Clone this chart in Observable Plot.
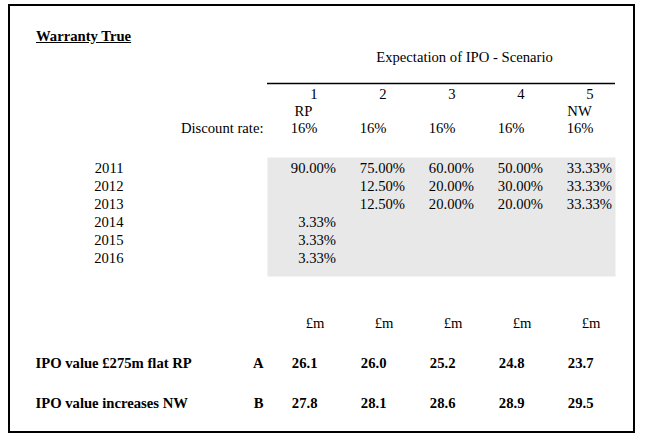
<!DOCTYPE html>
<html>
<head>
<meta charset="utf-8">
<script src="https://cdn.jsdelivr.net/npm/d3@7"></script>
<script src="https://cdn.jsdelivr.net/npm/@observablehq/plot@0.6"></script>
<style>
  html, body { margin: 0; padding: 0; background: #fff; }
  #wrap { position: relative; width: 646px; height: 441px; font-family: "Liberation Serif", "Times New Roman", serif; color: #000; }
  #border { position: absolute; left: 8px; top: 4px; width: 627px; height: 429px; border: 2px solid #000; box-sizing: border-box; }
  #title { position: absolute; left: 36px; top: 29px; font-size: 14.67px; font-weight: bold; text-decoration: underline; line-height: 1; white-space: nowrap; }
  #wrap svg { position: absolute; left: 0; top: 0; }
</style>
</head>
<body>
<div id="wrap"><div id="border"></div><div id="title"></div></div>
<script>
// ---- data ----
const title = "Warranty True";
const scenarioCaption = "Expectation of IPO - Scenario";
const scenarios = ["1", "2", "3", "4", "5"];
const scenarioTags = ["RP", "", "", "", "NW"];
const discountLabel = "Discount rate:";
const discountRates = [16, 16, 16, 16, 16];
const years = ["2011", "2012", "2013", "2014", "2015", "2016"];
const weightsS1 = [90.00, null, null, 3.33, 3.33, 3.33];
const weightsS2 = [75.00, 12.50, 12.50, null, null, null];
const weightsS3 = [60.00, 20.00, 20.00, null, null, null];
const weightsS4 = [50.00, 30.00, 20.00, null, null, null];
const weightsS5 = [33.33, 33.33, 33.33, null, null, null];
const unitLabel = "£m";
const rowLetters = ["A", "B"];
const rowLabels = ["IPO value £275m flat RP", "IPO value increases NW"];
const valuesA = [26.1, 26.0, 25.2, 24.8, 23.7];
const valuesB = [27.8, 28.1, 28.6, 28.9, 29.5];

// ---- tables built from the arrays ----
const weights = [weightsS1, weightsS2, weightsS3, weightsS4, weightsS5];
const cells = scenarios.flatMap((s, i) => years.map((y, j) => ({scenario: s, year: y, w: weights[i][j]})))
  .filter(d => d.w != null);
const tags = scenarios.map((s, i) => ({scenario: s, tag: scenarioTags[i]})).filter(d => d.tag);
const rates = scenarios.map((s, i) => ({scenario: s, rate: discountRates[i]}));
const valueRows = [
  ...scenarios.map((s, i) => ({scenario: s, row: "A", v: valuesA[i]})),
  ...scenarios.map((s, i) => ({scenario: s, row: "B", v: valuesB[i]}))
];
const labelRows = rowLetters.map((l, i) => ({row: l, label: rowLabels[i]}));

document.getElementById("title").textContent = title;

const common = {
  width: 646,
  height: 441,
  marginLeft: 267,
  marginRight: 31,
  x: {type: "point", domain: scenarios, padding: 0.5, axis: null},
  style: {background: "transparent", fontFamily: "'Liberation Serif', 'Times New Roman', serif", fontSize: "14.67px", color: "#000", overflow: "visible"}
};

const header = Plot.plot({
  ...common,
  marginTop: 82,
  marginBottom: 0,
  y: {type: "point", domain: ["num", "tag", "rate"], range: [93, 128], padding: 0, axis: null},
  marks: [
    Plot.ruleY(["num"], {dy: -11, stroke: "#000", strokeWidth: 1.5}),
    Plot.text([scenarioCaption], {frameAnchor: "top", lineAnchor: "middle", dx: 23, dy: -25}),
    Plot.text(scenarios, {x: d => d, y: () => "num", textAnchor: "end", dx: 14}),
    Plot.text(tags, {x: "scenario", y: () => "tag", text: "tag"}),
    Plot.text(rates, {x: "scenario", y: () => "rate", text: d => d.rate + "%", textAnchor: "end", dx: 14}),
    Plot.text([discountLabel], {y: () => "rate", frameAnchor: "left", textAnchor: "end", dx: -4})
  ]
});

const body = Plot.plot({
  ...common,
  marginTop: 157,
  marginBottom: 165,
  y: {type: "point", domain: years, range: [167, 259], padding: 0, axis: "left", tickSize: 0, tickPadding: 144, label: null},
  marks: [
    Plot.frame({fill: "#e8e8e8", stroke: "none"}),
    Plot.text(cells, {x: "scenario", y: "year", text: d => d.w.toFixed(2) + "%", textAnchor: "end", dx: 32.5})
  ]
});

const footer = Plot.plot({
  ...common,
  marginTop: 0,
  marginBottom: 0,
  y: {type: "point", domain: ["unit", ...rowLetters], range: [323, 403], padding: 0, axis: null},
  marks: [
    Plot.text(scenarios, {x: d => d, y: () => "unit", text: () => unitLabel, textAnchor: "end", dx: 21}),
    Plot.text(valueRows, {x: "scenario", y: "row", text: d => d.v.toFixed(1), textAnchor: "end", dx: 14, fontWeight: "bold"}),
    Plot.text(rowLetters, {y: d => d, frameAnchor: "left", textAnchor: "end", dx: -4, fontWeight: "bold"}),
    Plot.text(labelRows, {y: "row", text: "label", frameAnchor: "left", textAnchor: "start", dx: -232, fontWeight: "bold"})
  ]
});

const wrap = document.getElementById("wrap");
wrap.appendChild(body);
wrap.appendChild(header);
wrap.appendChild(footer);
</script>
</body>
</html>
